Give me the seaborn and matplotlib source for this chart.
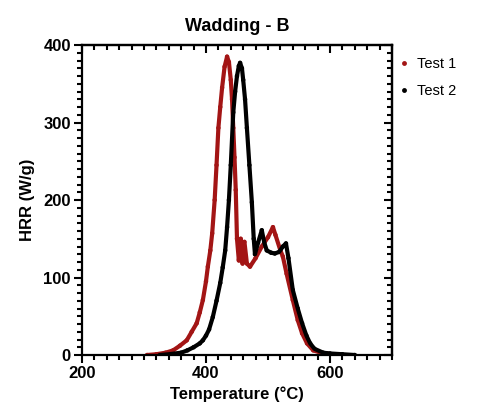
import matplotlib
matplotlib.use("Agg")
import matplotlib.pyplot as plt
import seaborn as sns
import pandas as pd
from matplotlib.ticker import MultipleLocator
from matplotlib.lines import Line2D

# ---- data ----
t1_temp = [305, 320, 335, 347, 358, 369, 377, 385, 390, 395, 400, 403, 407, 410, 414,
           417, 420, 423, 426, 430, 434, 437, 440, 442, 444, 446, 448, 450, 453, 456,
           459, 462, 466, 471, 480, 490, 500, 508, 512, 520, 524, 530, 540, 548, 555,
           563, 573, 585, 595, 600]
t1_hrr = [0, 1, 3, 6, 12, 19, 30, 41, 55, 71, 95, 114, 135, 157, 200,
          245, 293, 320, 345, 372, 385, 378, 355, 330, 293, 255, 213, 150, 122, 150,
          118, 146, 118, 114, 125, 140, 152, 165, 155, 135, 127, 105, 71, 45, 28,
          15, 6, 3, 2, 1]

t2_temp = [325, 340, 360, 370, 380, 390, 395, 400, 405, 411, 417, 423, 427, 431, 434,
           437, 440, 444, 447, 450, 453, 455, 458, 460, 463, 466, 470, 474, 477, 479,
           484, 490, 494, 498, 505, 511, 518, 524, 529, 533, 540, 548, 555, 562, 568,
           575, 589, 600, 620, 640]
t2_hrr = [0, 1, 3, 6, 10, 15, 19, 25, 33, 49, 70, 93, 113, 135, 165,
          200, 245, 313, 340, 360, 373, 377, 370, 355, 330, 293, 245, 197, 150, 130,
          145, 161, 145, 135, 132, 131, 133, 140, 144, 125, 84, 60, 41, 25, 15,
          8, 3, 2, 1, 0]

series_names = ["Test 1", "Test 2"]
series_colors = ["#A31515", "#000000"]
x_ticks = [200, 400, 600]
y_ticks = [0, 100, 200, 300, 400]

df = pd.concat([
    pd.DataFrame({"Temperature": t1_temp, "HRR": t1_hrr, "Series": series_names[0]}),
    pd.DataFrame({"Temperature": t2_temp, "HRR": t2_hrr, "Series": series_names[1]}),
])

sns.set_style("ticks")
plt.rcParams["font.family"] = ["Liberation Sans", "DejaVu Sans"]
for k in ["text.color", "axes.labelcolor", "xtick.color", "ytick.color", "axes.edgecolor"]:
    plt.rcParams[k] = "black"

fig = plt.figure(figsize=(4.93, 4.18), dpi=100)
ax = fig.add_axes([0.1663, 0.1507, 0.6288, 0.7416])

palette = dict(zip(series_names, series_colors))
sns.lineplot(data=df, x="Temperature", y="HRR", hue="Series", palette=palette,
             linewidth=3.0, ax=ax, legend=False, sort=False, estimator=None)
sns.scatterplot(data=df, x="Temperature", y="HRR", hue="Series", palette=palette,
                s=10, linewidth=0, ax=ax, legend=False)

ax.set_xlim(200, 700)
ax.set_ylim(0, 400)
ax.set_xticks(x_ticks)
ax.set_yticks(y_ticks)
ax.xaxis.set_minor_locator(MultipleLocator(20))
ax.yaxis.set_minor_locator(MultipleLocator(10))
for lab in ax.get_xticklabels() + ax.get_yticklabels():
    lab.set_fontweight("bold")
ax.tick_params(axis="both", which="major", direction="out", length=6, width=1.5,
               labelsize=12, pad=2, colors="black")
ax.tick_params(axis="both", which="minor", direction="out", length=3.5, width=1.5,
               colors="black")
for sp in ax.spines.values():
    sp.set_linewidth(1.6)
    sp.set_color("black")
    sp.set_visible(True)

# inward ticks on the top and right
secx = ax.secondary_xaxis("top")
secx.set_xticks(x_ticks)
secx.xaxis.set_minor_locator(MultipleLocator(20))
secx.tick_params(which="major", direction="in", length=6, width=1.5, labeltop=False)
secx.tick_params(which="minor", direction="in", length=3.5, width=1.5)
secx.spines["top"].set_linewidth(1.6)
secy = ax.secondary_yaxis("right")
secy.set_yticks(y_ticks)
secy.yaxis.set_minor_locator(MultipleLocator(10))
secy.tick_params(which="major", direction="in", length=6, width=1.5, labelright=False)
secy.tick_params(which="minor", direction="in", length=3.5, width=1.5)
secy.spines["right"].set_linewidth(1.6)

ax.set_xlabel("Temperature (°C)", fontsize=12, fontweight="bold", labelpad=4)
ax.set_ylabel("HRR (W/g)", fontsize=12, fontweight="bold", labelpad=6)
ax.set_title("Wadding - B", fontsize=13, fontweight="bold", pad=10)

handles = [Line2D([], [], linestyle="none", marker="o", markersize=3.5,
                  color=c, markeredgewidth=0) for c in series_colors]
ax.legend(handles, series_names, loc="upper left", bbox_to_anchor=(0.995, 0.98),
          frameon=False, fontsize=10.5, handlelength=1.0, handletextpad=0.4,
          labelspacing=0.9, borderaxespad=0.0)

fig.savefig("out.png", dpi=100)
